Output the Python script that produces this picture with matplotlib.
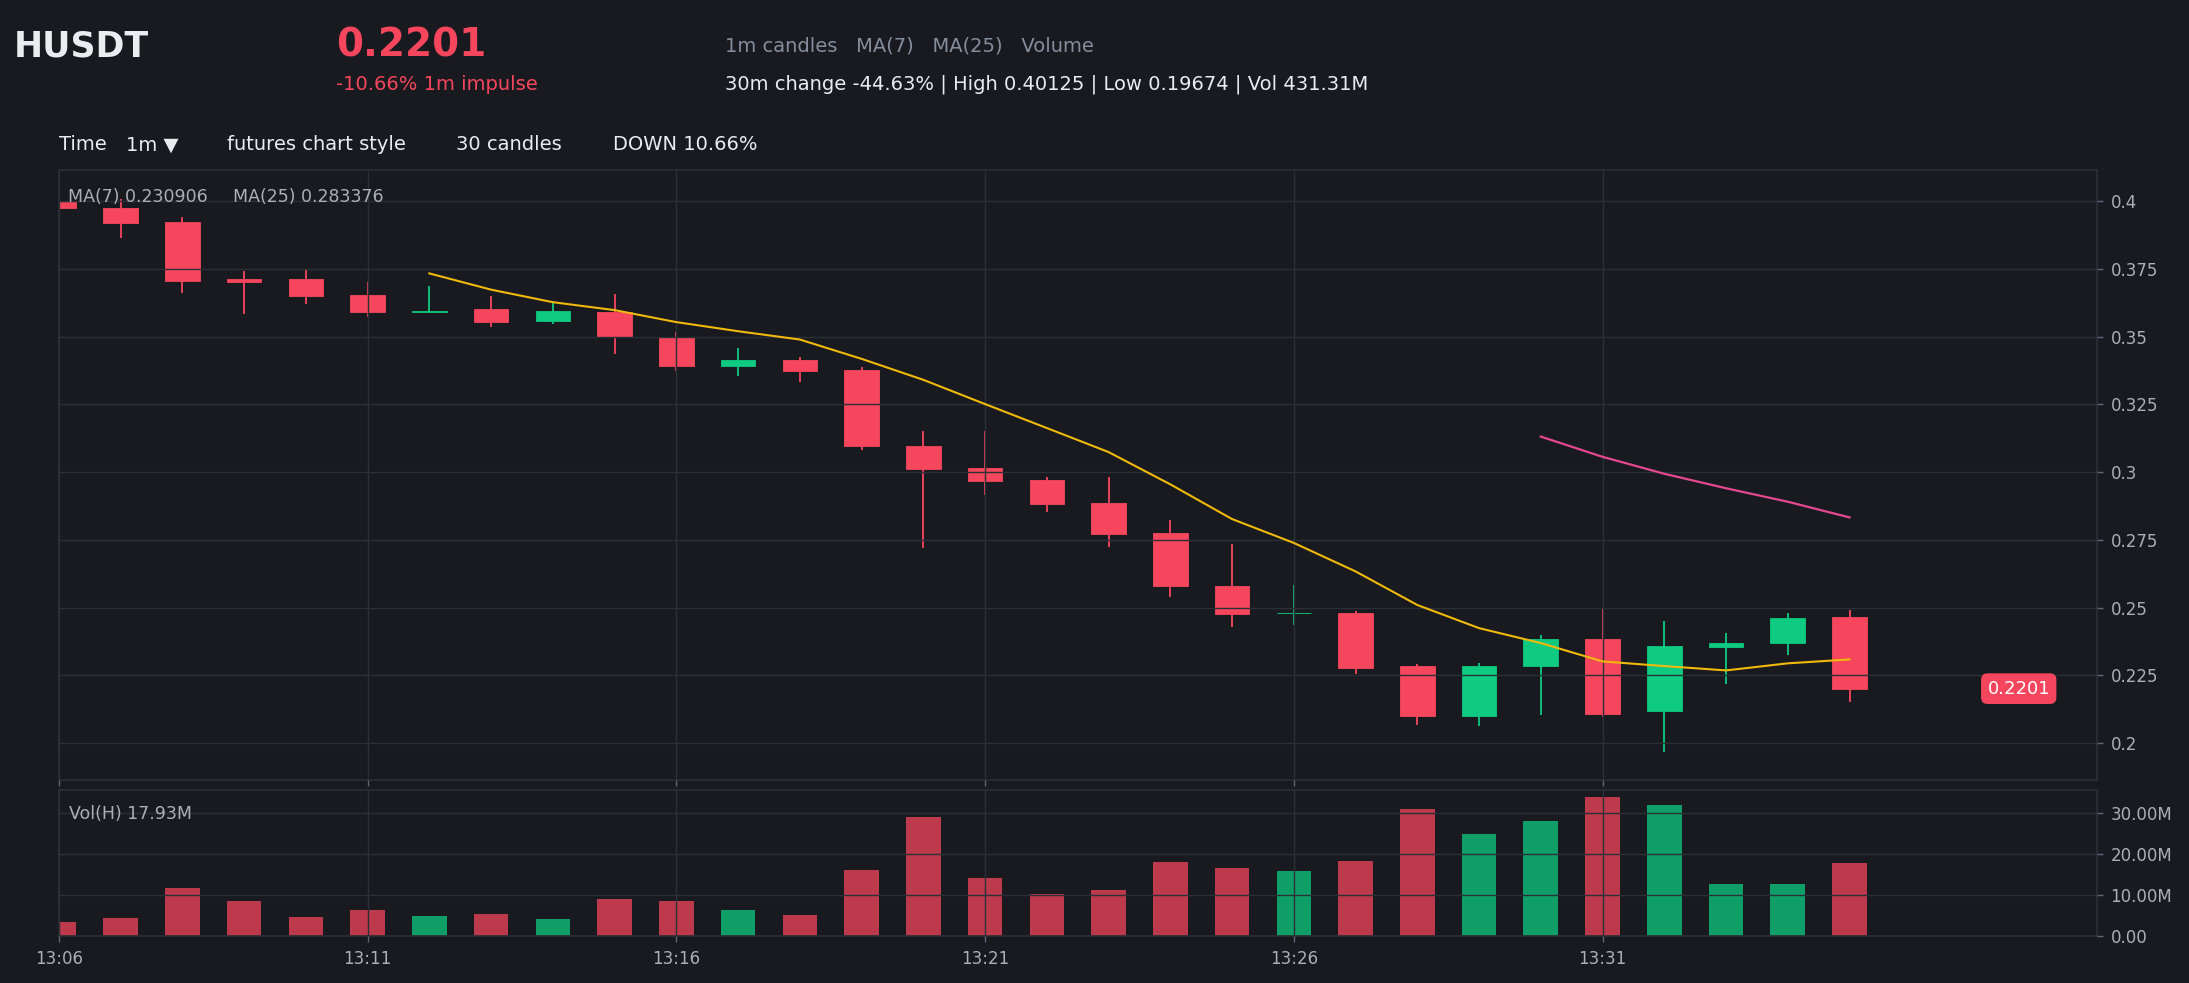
import matplotlib
matplotlib.use("Agg")
import matplotlib.pyplot as plt
import numpy as np
import pandas as pd

# 1m candles, 13:06 .. 13:35
times = ['13:06', '13:07', '13:08', '13:09', '13:10', '13:11', '13:12', '13:13', '13:14', '13:15',
         '13:16', '13:17', '13:18', '13:19', '13:20', '13:21', '13:22', '13:23', '13:24', '13:25',
         '13:26', '13:27', '13:28', '13:29', '13:30', '13:31', '13:32', '13:33', '13:34', '13:35']
opens = [0.3997, 0.3977, 0.3923, 0.3712, 0.3712, 0.3653, 0.3590, 0.3602, 0.3558, 0.3590,
         0.3500, 0.3393, 0.3414, 0.3376, 0.3096, 0.3014, 0.2971, 0.2885, 0.2776, 0.2579,
         0.2479, 0.2479, 0.2284, 0.2100, 0.2285, 0.2386, 0.2119, 0.2354, 0.2369, 0.2464]
highs = [0.40125, 0.4009, 0.3941, 0.3742, 0.3750, 0.3703, 0.3688, 0.3649, 0.3631, 0.3658,
         0.3516, 0.3460, 0.3427, 0.3387, 0.3153, 0.3153, 0.2984, 0.2984, 0.2823, 0.2736,
         0.2582, 0.2487, 0.2291, 0.2294, 0.2400, 0.2497, 0.2449, 0.2407, 0.2479, 0.2490]
lows = [0.3940, 0.3864, 0.3662, 0.3584, 0.3620, 0.3572, 0.3590, 0.3536, 0.3549, 0.3436,
        0.3373, 0.3355, 0.3332, 0.3081, 0.2721, 0.2916, 0.2853, 0.2724, 0.2540, 0.2428,
        0.2436, 0.2255, 0.2065, 0.2064, 0.2103, 0.2098, 0.19674, 0.2219, 0.2324, 0.2151]
closes = [0.3975, 0.3919, 0.3706, 0.3703, 0.3649, 0.3590, 0.3596, 0.3555, 0.3595, 0.3501,
          0.3393, 0.3414, 0.3375, 0.3097, 0.3013, 0.2968, 0.2882, 0.2772, 0.2580, 0.2478,
          0.2480, 0.2277, 0.2100, 0.2284, 0.2386, 0.2106, 0.2357, 0.2368, 0.2460, 0.2201]
volumes = [3.5, 4.55, 11.8, 8.6, 4.8, 6.5, 5.0, 5.5, 4.3, 9.2,
           8.7, 6.5, 5.3, 16.3, 29.1, 14.3, 10.4, 11.4, 18.1, 16.7,
           16.0, 18.4, 31.1, 25.0, 28.1, 34.0, 32.0, 12.8, 12.8, 17.93]  # millions

BG = '#181a20'
GRID = '#2b2f36'
UP = '#0ecb81'
DOWN = '#f6465d'
TXT = '#eaecef'
MUTED = '#848e9c'
TICK = '#aab0b8'

o = np.array(opens); h = np.array(highs); l = np.array(lows); c = np.array(closes)
v = np.array(volumes)
x = np.arange(len(times))
up = c >= o
cols = np.where(up, UP, DOWN)

ma7 = pd.Series(c).rolling(7).mean()
ma25 = pd.Series(c).rolling(25).mean()

fig = plt.figure(figsize=(21.89, 9.83), dpi=100, facecolor=BG)
ax = fig.add_axes([0.02686, 0.2069, 0.9309, 0.6199], facecolor=BG)
axv = fig.add_axes([0.02686, 0.0475, 0.9309, 0.1488], facecolor=BG, sharex=ax)

# candles
ax.vlines(x, l, h, colors=cols, lw=1.3, zorder=1)
ax.bar(x, np.abs(c - o), bottom=np.minimum(o, c), width=0.56, color=cols,
       edgecolor=cols, linewidth=0.6, zorder=1.5)
ax.plot(x, ma7, color='#f0b90b', lw=1.5, zorder=3)
ax.plot(x, ma25, color='#e6488f', lw=1.6, zorder=3)

ax.set_xlim(0, 33)
pad = (max(highs) - min(lows)) * 0.05
ax.set_ylim(min(lows) - pad, max(highs) + pad)
ax.set_yticks([0.2, 0.225, 0.25, 0.275, 0.3, 0.325, 0.35, 0.375, 0.4])
ax.set_yticklabels(['0.2', '0.225', '0.25', '0.275', '0.3', '0.325', '0.35', '0.375', '0.4'])

ax.text(0.0047, 0.956, 'MA(7) 0.230906', transform=ax.transAxes, color=TICK,
        fontsize=12.5, va='center', ha='left', zorder=5)
ax.text(0.0857, 0.956, 'MA(25) 0.283376', transform=ax.transAxes, color=TICK,
        fontsize=12.5, va='center', ha='left', zorder=5)
ax.text(31.74, closes[-1], '%.4f' % closes[-1], color='white', fontsize=13,
        ha='center', va='center', zorder=6,
        bbox=dict(boxstyle='round,pad=0.35', fc=DOWN, ec='none'))

# volume
vcols = np.where(up, UP, DOWN)
axv.bar(x, v, width=0.56, color=vcols, alpha=0.75, zorder=1)
axv.set_ylim(0, v.max() * 1.05)
axv.set_yticks([0, 10, 20, 30])
axv.set_yticklabels(['0.00', '10.00M', '20.00M', '30.00M'])
axv.text(0.0049, 0.836, 'Vol(H) %.2fM' % volumes[-1], transform=axv.transAxes,
         color=TICK, fontsize=12.5, va='center', ha='left')

ticks = list(range(0, len(times), 5))
axv.set_xticks(ticks)
axv.set_xticklabels([times[i] for i in ticks])

for a in (ax, axv):
    a.set_axisbelow(False)
    a.grid(True, color=GRID, lw=1.0)
    a.yaxis.tick_right()
    a.tick_params(colors=TICK, labelsize=12, length=4, width=1, pad=6)
    a.tick_params(axis='y', colors='#5e6673', labelcolor=TICK)
    a.tick_params(axis='x', colors='#5e6673', labelcolor=TICK)
    for s in a.spines.values():
        s.set_color(GRID)
        s.set_linewidth(1.2)
ax.tick_params(axis='x', labelbottom=False)

# header
fig.text(0.0064, 0.953, 'HUSDT', color=TXT, fontsize=25, fontweight='bold', va='center')
fig.text(0.1535, 0.954, '0.2201', color=DOWN, fontsize=28, fontweight='bold', va='center')
fig.text(0.1535, 0.9145, '-10.66% 1m impulse', color=DOWN, fontsize=14, va='center')
fig.text(0.331, 0.953, '1m candles   MA(7)   MA(25)   Volume', color=MUTED, fontsize=14, va='center')
fig.text(0.331, 0.9145, '30m change -44.63% | High 0.40125 | Low 0.19674 | Vol 431.31M',
         color=TXT, fontsize=14, va='center')

row_y = 0.8525
fig.text(0.0268, row_y, 'Time', color=TXT, fontsize=14, va='center')
fig.text(0.0574, row_y, '1m \u25bc', color=TXT, fontsize=14, va='center')
fig.text(0.1039, row_y, 'futures chart style', color=TXT, fontsize=14, va='center')
fig.text(0.2085, row_y, '30 candles', color=TXT, fontsize=14, va='center')
fig.text(0.2800, row_y, 'DOWN 10.66%', color=TXT, fontsize=14, va='center')

fig.savefig('out.png', dpi=100, facecolor=BG)
